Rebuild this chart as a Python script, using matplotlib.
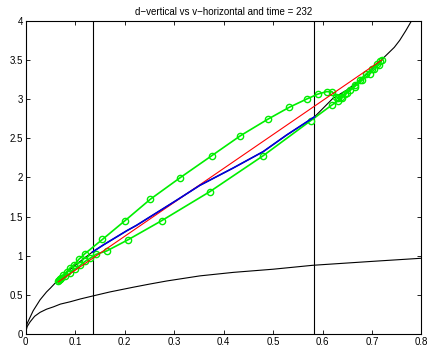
import matplotlib.pyplot as plt

plt.rcParams['font.family'] = ['Liberation Sans', 'DejaVu Sans']

# upper black curve (d vs v)
upper_v = [0.0, 0.003, 0.009, 0.015, 0.022, 0.029, 0.042, 0.05, 0.059, 0.066, 0.09, 0.12,
           0.135, 0.157, 0.204, 0.224, 0.305, 0.352, 0.419, 0.48, 0.527, 0.584, 0.621,
           0.65, 0.675, 0.70, 0.719, 0.732, 0.745, 0.756, 0.768, 0.78, 0.79]
upper_d = [0.06, 0.14, 0.22, 0.30, 0.37, 0.44, 0.54, 0.59, 0.65, 0.68, 0.83, 0.98,
           1.05, 1.14, 1.32, 1.39, 1.71, 1.90, 2.12, 2.33, 2.54, 2.775, 3.01,
           3.12, 3.24, 3.38, 3.50, 3.58, 3.66, 3.75, 3.87, 4.0, 4.1]

# lower black curve
lower_v = [0.0, 0.003, 0.009, 0.018, 0.029, 0.042, 0.056, 0.07, 0.09, 0.11, 0.135, 0.17,
           0.217, 0.25, 0.285, 0.352, 0.42, 0.50, 0.58, 0.70, 0.80]
lower_d = [0.03, 0.10, 0.16, 0.23, 0.28, 0.32, 0.35, 0.385, 0.415, 0.45, 0.488, 0.54,
           0.60, 0.64, 0.68, 0.745, 0.79, 0.83, 0.88, 0.93, 0.97]

# blue curve
blue_v = [0.135, 0.157, 0.204, 0.224, 0.305, 0.352, 0.419, 0.48, 0.527, 0.584]
blue_d = [1.05, 1.14, 1.32, 1.39, 1.71, 1.90, 2.12, 2.33, 2.54, 2.775]

# red straight line
red_v = [0.066, 0.72]
red_d = [0.67, 3.50]

# green loop (markers)
green_v = [0.067, 0.069, 0.072, 0.076, 0.083, 0.090, 0.098, 0.108, 0.120, 0.155, 0.2006,
           0.2517, 0.312, 0.376, 0.434, 0.489, 0.5325, 0.568, 0.591, 0.608, 0.619, 0.628,
           0.632, 0.638, 0.645, 0.655, 0.665, 0.675, 0.688, 0.700, 0.710, 0.716, 0.720,
           0.714, 0.705, 0.695, 0.680, 0.665, 0.650, 0.640, 0.632, 0.620, 0.576, 0.48,
           0.372, 0.2747, 0.206, 0.1636, 0.142, 0.13, 0.12, 0.11, 0.10, 0.09, 0.08, 0.07, 0.066]
green_d = [0.69, 0.70, 0.72, 0.75, 0.80, 0.85, 0.89, 0.96, 1.03, 1.21, 1.449,
           1.722, 1.997, 2.278, 2.533, 2.742, 2.895, 3.001, 3.065, 3.095, 3.095, 3.03,
           3.01, 3.03, 3.07, 3.12, 3.18, 3.24, 3.32, 3.39, 3.45, 3.48, 3.50,
           3.44, 3.38, 3.32, 3.24, 3.16, 3.08, 3.02, 2.98, 2.93, 2.725, 2.278,
           1.819, 1.449, 1.203, 1.063, 1.02, 0.97, 0.93, 0.88, 0.83, 0.78, 0.74, 0.70, 0.68]

vline_v = [0.135, 0.583]

fig = plt.figure(figsize=(4.29, 3.48), dpi=100)
ax = fig.add_axes([0.060, 0.0394, 0.9225, 0.9011])

ax.plot(upper_v, upper_d, color='black', lw=0.8)
ax.plot(lower_v, lower_d, color='black', lw=0.8)
for v in vline_v:
    ax.axvline(v, color='black', lw=0.8)
ax.plot(green_v, green_d, color='#00ee00', lw=1.2, marker='o', markersize=4.5,
        markerfacecolor='none', markeredgecolor='#00ee00', markeredgewidth=1.0)
ax.plot(red_v, red_d, color='red', lw=0.8)
ax.plot(blue_v, blue_d, color='#0000dd', lw=1.2)

ax.set_xlim(0, 0.8)
ax.set_ylim(0, 4)
ax.set_xticks([0, 0.1, 0.2, 0.3, 0.4, 0.5, 0.6, 0.7, 0.8])
ax.set_xticklabels(['0', '0.1', '0.2', '0.3', '0.4', '0.5', '0.6', '0.7', '0.8'])
ax.set_yticks([0, 0.5, 1, 1.5, 2, 2.5, 3, 3.5, 4])
ax.set_yticklabels(['0', '0.5', '1', '1.5', '2', '2.5', '3', '3.5', '4'])
ax.tick_params(direction='in', length=3, width=0.6, labelsize=7, pad=2,
               top=True, right=True)
for s in ax.spines.values():
    s.set_linewidth(0.8)
ax.set_title('d\u2212vertical vs v\u2212horizontal and time = 232', fontsize=7, pad=4)

fig.savefig('out.png', dpi=100)
